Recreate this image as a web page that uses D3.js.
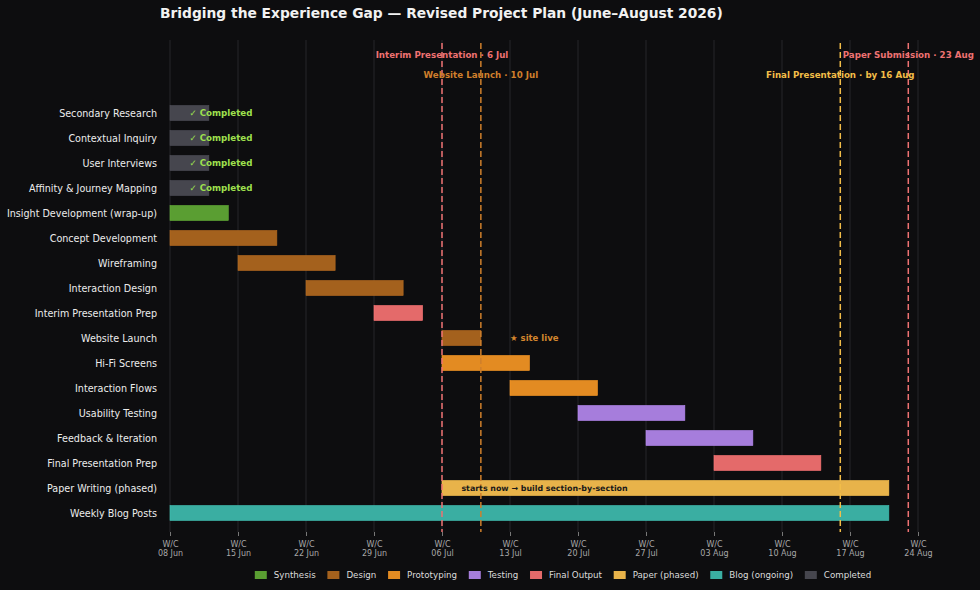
<!DOCTYPE html>
<html><head><meta charset="utf-8">
<script src="https://cdn.jsdelivr.net/npm/d3@7"></script>
<style>
html,body{margin:0;padding:0;background:#0d0d0f;}
svg{display:block;font-family:"DejaVu Sans",sans-serif;}
</style></head><body>
<svg id="chart" width="980" height="590"></svg>
<script>
// ---- data ----
const tasks = ["Secondary Research","Contextual Inquiry","User Interviews","Affinity & Journey Mapping",
  "Insight Development (wrap-up)","Concept Development","Wireframing","Interaction Design",
  "Interim Presentation Prep","Website Launch","Hi-Fi Screens","Interaction Flows","Usability Testing",
  "Feedback & Iteration","Final Presentation Prep","Paper Writing (phased)","Weekly Blog Posts"];
const starts = ["2026-06-08","2026-06-08","2026-06-08","2026-06-08","2026-06-08","2026-06-08","2026-06-15",
  "2026-06-22","2026-06-29","2026-07-06","2026-07-06","2026-07-13","2026-07-20","2026-07-27","2026-08-03",
  "2026-07-06","2026-06-08"];
const durations = [4,4,4,4,6,11,10,10,5,4,9,9,11,11,11,46,74];
const groups = ["Completed","Completed","Completed","Completed","Synthesis","Design","Design","Design",
  "Final Output","Design","Prototyping","Prototyping","Testing","Testing","Final Output","Paper (phased)","Blog (ongoing)"];
const legendNames = ["Synthesis","Design","Prototyping","Testing","Final Output","Paper (phased)","Blog (ongoing)","Completed"];
const legendColors = ["#5a9e32","#a4611d","#e38b22","#a67ddc","#e46a6a","#e8b34a","#3aaea2","#46464e"];
const tickDates = ["2026-06-08","2026-06-15","2026-06-22","2026-06-29","2026-07-06","2026-07-13","2026-07-20",
  "2026-07-27","2026-08-03","2026-08-10","2026-08-17","2026-08-24"];
const milestoneNames = ["Interim Presentation · 6 Jul","Website Launch · 10 Jul","Final Presentation · by 16 Aug","Paper Submission · 23 Aug"];
const milestoneDates = ["2026-07-06","2026-07-10","2026-08-16","2026-08-23"];
const milestoneColors = ["#ee7272","#cf7f2c","#f2bd48","#ee7272"];
const milestoneRow = [0,1,1,0];
const notes = [
  {task:"Secondary Research", date:"2026-06-10", text:"✓ Completed", color:"#9ee04e", size:8.7},
  {task:"Contextual Inquiry", date:"2026-06-10", text:"✓ Completed", color:"#9ee04e", size:8.7},
  {task:"User Interviews", date:"2026-06-10", text:"✓ Completed", color:"#9ee04e", size:8.7},
  {task:"Affinity & Journey Mapping", date:"2026-06-10", text:"✓ Completed", color:"#9ee04e", size:8.7},
  {task:"Website Launch", date:"2026-07-13", text:"★ site live", color:"#d4862e", size:8.5},
  {task:"Paper Writing (phased)", date:"2026-07-08", text:"starts now → build section-by-section", color:"#1a1a1a", size:7.9}
];

// ---- scales ----
const P = d3.utcParse("%Y-%m-%d");
const fmt = d3.utcFormat("%d %b");
const x = d3.scaleUtc().domain([P("2026-06-08"), P("2026-08-24")]).range([170, 918]);
const y = d3.scalePoint().domain(tasks).range([113, 513]);
const color = d3.scaleOrdinal().domain(legendNames).range(legendColors);
const plotTop = 40, plotBottom = 532, barH = 15;

const svg = d3.select("#chart");
svg.append("rect").attr("width",980).attr("height",590).attr("fill","#0d0d0f");

// title
svg.append("text").attr("x",160).attr("y",18).attr("fill","#f2f2f2")
  .attr("font-weight","bold").attr("font-size","13.8px")
  .text("Bridging the Experience Gap — Revised Project Plan (June–August 2026)");

// grid
const ticks = tickDates.map(P);
svg.append("g").selectAll("line").data(ticks).join("line")
  .attr("x1",d=>x(d)).attr("x2",d=>x(d)).attr("y1",plotTop).attr("y2",plotBottom)
  .attr("stroke","#27272b").attr("stroke-width",1);

// x axis
const xAxis = d3.axisBottom(x).tickValues(ticks).tickSize(4).tickPadding(3).tickFormat(()=> "");
const gx = svg.append("g").attr("transform",`translate(0,${plotBottom})`).call(xAxis);
gx.select(".domain").remove();
gx.selectAll(".tick line").attr("stroke","#777");
gx.selectAll(".tick").each(function(d){
  const t = d3.select(this).select("text").attr("fill","#a8a8a8").attr("font-size","8px")
    .attr("font-family","DejaVu Sans, sans-serif").attr("y",9);
  t.append("tspan").attr("x",0).attr("dy","0.71em").text("W/C");
  t.append("tspan").attr("x",0).attr("dy","1.15em").text(fmt(d));
});

// y labels
const yAxis = d3.axisLeft(y).tickSize(0).tickPadding(13);
const gy = svg.append("g").attr("transform","translate(170,0)").call(yAxis);
gy.select(".domain").remove();
gy.selectAll("text").attr("fill","#ececec").attr("font-size","9.6px").attr("font-family","DejaVu Sans, sans-serif");

// bars
svg.append("g").selectAll("rect").data(tasks).join("rect")
  .attr("x",(d,i)=>x(P(starts[i])))
  .attr("y",d=>y(d)-barH/2)
  .attr("width",(d,i)=>x(d3.utcDay.offset(P(starts[i]),durations[i]))-x(P(starts[i])))
  .attr("height",barH)
  .attr("fill",(d,i)=>color(groups[i]))
  .attr("stroke",(d,i)=>d3.color(color(groups[i])).brighter(0.3))
  .attr("stroke-width",0.6);

// milestones
svg.append("g").selectAll("line").data(milestoneDates).join("line")
  .attr("x1",d=>x(P(d))).attr("x2",d=>x(P(d))).attr("y1",plotTop+3).attr("y2",plotBottom)
  .attr("stroke",(d,i)=>milestoneColors[i]).attr("stroke-width",1.5)
  .attr("stroke-dasharray","6,3");
svg.append("g").selectAll("text").data(milestoneNames).join("text")
  .attr("x",(d,i)=>x(P(milestoneDates[i])))
  .attr("y",(d,i)=>55+milestoneRow[i]*20).attr("dy","0.35em")
  .attr("text-anchor","middle").attr("font-weight","bold").attr("font-size","8.7px")
  .attr("fill",(d,i)=>milestoneColors[i]).text(d=>d);

// notes
svg.append("g").selectAll("text").data(notes).join("text")
  .attr("x",d=>x(P(d.date))).attr("y",d=>y(d.task)).attr("dy","0.35em")
  .attr("font-weight","bold").attr("font-size",d=>d.size+"px")
  .attr("fill",d=>d.color).text(d=>d.text);

// legend
const lg = svg.append("g");
const items = lg.selectAll("g").data(legendNames).join("g");
items.append("rect").attr("width",12).attr("height",8).attr("y",-4)
  .attr("fill",d=>color(d));
items.append("text").attr("x",19).attr("dy","0.35em").attr("font-size","8.7px")
  .attr("fill","#dcdcdc").text(d=>d);
let cx = 0;
const gap = 11.7;
items.each(function(){
  const w = d3.select(this).select("text").node().getComputedTextLength();
  d3.select(this).attr("transform",`translate(${cx},575)`);
  cx += 19 + w + gap;
});
const total = cx - gap;
lg.attr("transform",`translate(${563 - total/2},0)`);
</script>
</body></html>
